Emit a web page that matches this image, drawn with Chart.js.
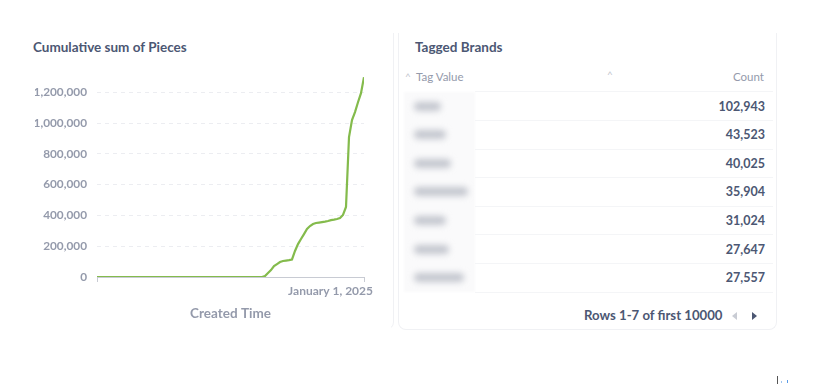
<!DOCTYPE html>
<html>
<head>
<meta charset="utf-8">
<script src="https://cdn.jsdelivr.net/npm/chart.js@4"></script>
<style>
  body { margin: 0; width: 832px; height: 386px; background: #fff; font-family: Lato, sans-serif; position: relative; overflow: hidden; }
  .card { position: absolute; border: 1px solid #f0f1f4; border-top: none; border-radius: 0 0 8px 8px; background: #fff; }
  .title { position: absolute; font-weight: 700; font-size: 13.5px; color: #4c5773; }
  .hdr { position: absolute; font-size: 11.5px; color: #949aab; top: 70px; }
  .row { position: absolute; left: 475px; width: 298px; height: 28.5px; border-bottom: 1px solid #f4f5f7; }
  .cnt { position: absolute; right: 8px; top: 7px; font-size: 12.5px; font-weight: 700; color: #4c5773; }
  .blur { position: absolute; left: 404px; top: 92px; width: 71px; height: 200px; background: #fafafb; filter: blur(1px); }
  .blob { position: absolute; left: 414px; height: 9px; background: #c3c6ce; border-radius: 5px; filter: blur(3px); }
  #chartBox { position: absolute; left: 0; top: 0; width: 392px; height: 340px; }
</style>
</head>
<body>
<div class="card" style="left:-10px; top:33px; width:403px; height:296px; border-bottom-color:#fff; border-left:none;"></div>
<div class="card" style="left:398px; top:33px; width:377px; height:296px;"></div>

<div class="title" style="left:33px; top:39px;">Cumulative sum of Pieces</div>
<div id="chartBox"><canvas id="piecesChart" width="392" height="340"></canvas></div>

<div class="title" style="left:415px; top:39px;">Tagged Brands</div>
<div class="hdr" style="left:405px; font-size:10px; top:70px; color:#c3c6ce;">^</div>
<div class="hdr" style="left:416px;">Tag Value</div>
<div class="hdr" style="left:607px; font-size:10px; top:68px; color:#c3c6ce;">^</div>
<div class="hdr" style="left:733px;">Count</div>
<div style="position:absolute; left:475px; top:91px; width:298px; border-top:1px solid #f4f5f7;"></div>
<div class="blur"></div>
<div id="rows"></div>

<div class="title" style="left:584px; top:307px; font-size:13.2px;">Rows 1-7 of first 10000</div>
<div style="position:absolute; left:732px; top:312px; width:0; height:0; border-top:4px solid transparent; border-bottom:4px solid transparent; border-right:5px solid #c9ccd4;"></div>
<div style="position:absolute; left:752px; top:312px; width:0; height:0; border-top:4px solid transparent; border-bottom:4px solid transparent; border-left:5px solid #4c5773;"></div>

<div style="position:absolute; left:777px; top:376px; width:1px; height:8px; background:#555;"></div>
<div style="position:absolute; left:781px; top:381px; width:1px; height:2px; background:#9cc3f0;"></div>
<div style="position:absolute; left:787px; top:380px; width:1px; height:3px; background:#5a9be6;"></div>

<script>
// weekly index along the x axis, last point = January 1, 2025
const weeks = [0,1,2,3,4,5,6,7,8,9,10,11,12,13,14,15,16,17,18,19,20,21,22,23,24,25,26,27,28,29,
  30,31,32,33,34,35,36,37,38,39,40,41,42,43,44,45,46,47,48,49,50,51,52,53,54,55,56,57,58,59,
  60,61,62,63,64,65,66,67,68,69,70,71,72,73,74,75,76,77,78,79,80,81,82,83,84,85,86,87,88,89];
const pieces = [0,0,0,0,0,0,0,0,0,0,0,0,0,0,0,0,0,0,0,0,0,0,0,0,0,0,0,0,0,0,
  0,0,0,0,0,0,0,0,0,0,0,0,0,0,0,0,0,0,0,0,0,0,0,0,0,0,6000,26000,45000,71000,
  84000,97000,104000,107000,110000,114000,169000,214000,247000,279000,312000,331000,344000,351000,354000,357000,360000,364000,370000,373000,
  377000,383000,403000,455000,909000,1020000,1072000,1136000,1195000,1299000];
const yTicks = [0, 200000, 400000, 600000, 800000, 1000000, 1200000];
const lastLabel = 'January 1, 2025';

// table data (brand names are blurred in the source)
const blobWidths = [27, 32, 37, 54, 32, 35, 50];
const counts = ['102,943', '43,523', '40,025', '35,904', '31,024', '27,647', '27,557'];

const rows = document.getElementById('rows');
counts.forEach((c, i) => {
  const top = 91.5 + i * 28.6;
  const r = document.createElement('div');
  r.className = 'row';
  r.style.top = top + 'px';
  r.innerHTML = '<div class="cnt">' + c + '</div>';
  rows.appendChild(r);
  const b = document.createElement('div');
  b.className = 'blob';
  b.style.top = (top + 10) + 'px';
  b.style.width = blobWidths[i] + 'px';
  rows.appendChild(b);
});

Chart.defaults.font.family = 'Lato';

const ctx = document.getElementById('piecesChart').getContext('2d');
new Chart(ctx, {
  type: 'line',
  data: {
    labels: weeks,
    datasets: [{
      data: weeks.map((w, i) => ({ x: w, y: pieces[i] })),
      borderColor: '#84bb4c',
      borderWidth: 2.2,
      pointRadius: 0,
      fill: false,
      tension: 0
    }]
  },
  options: {
    responsive: false,
    animation: false,
    layout: { padding: { left: 35, right: 28, top: 77, bottom: 13 } },
    plugins: { legend: { display: false }, tooltip: { enabled: false } },
    scales: {
      x: {
        type: 'linear',
        min: weeks[0],
        max: weeks[weeks.length - 1],
        afterBuildTicks: s => { s.ticks = [{ value: weeks[0] }, { value: weeks[weeks.length - 1] }]; },
        afterFit: s => { s.height = 50; },
        grid: { display: true, drawOnChartArea: false, drawTicks: true, tickLength: 5, color: '#c8cbd3' },
        border: { display: true, color: '#c8cbd3' },
        ticks: {
          autoSkip: false,
          maxRotation: 0,
          align: 'end',
          labelOffset: 9,
          padding: 2,
          color: '#949aab',
          font: { size: 12, weight: 'bold' },
          callback: v => v === weeks[weeks.length - 1] ? lastLabel : ''
        },
        title: { display: true, text: 'Created Time', color: '#949aab', font: { size: 13.5, weight: 'bold' }, padding: { bottom: 5 } }
      },
      y: {
        min: 0,
        max: 1300000,
        afterBuildTicks: s => { s.ticks = yTicks.map(v => ({ value: v })); },
        afterFit: s => { s.width = 62; },
        grid: { color: '#ecedf1', drawTicks: false },
        border: { display: false, dash: [4, 4] },
        ticks: {
          padding: 10,
          color: '#949aab',
          font: { size: 11.8, weight: 'bold' },
          callback: v => v.toLocaleString('en-US')
        }
      }
    }
  }
});
</script>
</body>
</html>
